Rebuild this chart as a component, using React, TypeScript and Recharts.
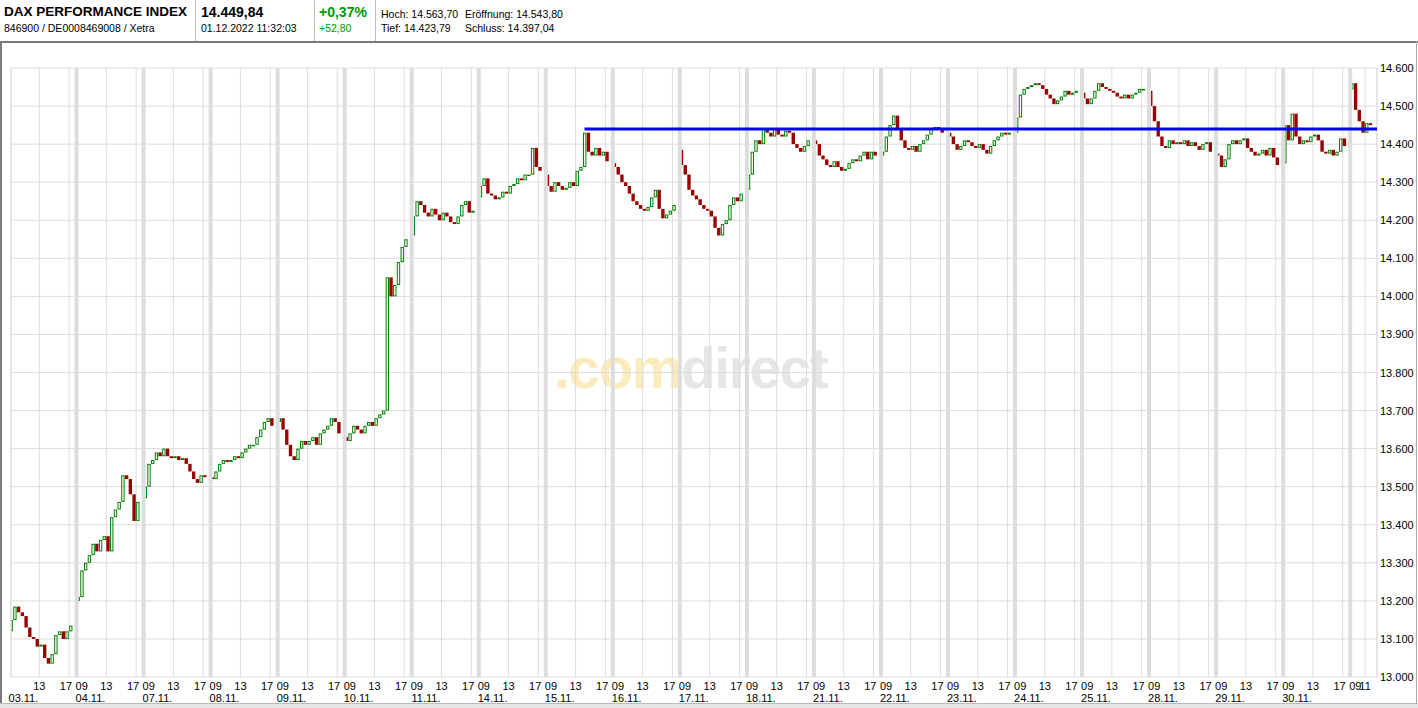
import { ComposedChart, Bar, XAxis, YAxis, CartesianGrid, ReferenceLine } from 'recharts'

// trading days shown on the axis (one slot of 9 hours each: 09:00-17:30 + gap)
const DAYS = [
  '03.11.', '04.11.', '07.11.', '08.11.', '09.11.', '10.11.', '11.11.',
  '14.11.', '15.11.', '16.11.', '17.11.', '18.11.', '21.11.', '22.11.',
  '23.11.', '24.11.', '25.11.', '28.11.', '29.11.', '30.11.', '01.12.'
]

// opening price of each day
const DAY_OPENS = [
  13120, 13200, 13470, 13525, 13670, 13630, 14160, 14260, 14320, 14350, 14385,
  14280, 14410, 14370, 14430, 14430, 14535, 14540, 14375, 14350, 14544
]

// 30 minute closes, 09:00 ... 17:00
const CLOSES = [
  [13150, 13185, 13170, 13160, 13130, 13105, 13100, 13080, 13085, 13050, 13035, 13060, 13110, 13120, 13100, 13120, 13135],
  [13210, 13280, 13300, 13320, 13350, 13330, 13360, 13370, 13330, 13420, 13440, 13460, 13530, 13520, 13480, 13410, 13460],
  [13500, 13560, 13570, 13590, 13580, 13600, 13580, 13575, 13580, 13570, 13575, 13560, 13540, 13520, 13510, 13530, 13525],
  [13520, 13540, 13560, 13570, 13565, 13570, 13580, 13575, 13590, 13600, 13610, 13610, 13630, 13650, 13670, 13680, 13660],
  [13680, 13650, 13610, 13580, 13570, 13600, 13620, 13610, 13620, 13630, 13610, 13640, 13650, 13660, 13680, 13670, 13640],
  [13620, 13640, 13660, 13650, 13640, 13660, 13670, 13660, 13680, 13690, 13700, 14050, 14000, 14030, 14090, 14130, 14150],
  [14210, 14250, 14240, 14220, 14210, 14230, 14215, 14200, 14220, 14210, 14195, 14190, 14210, 14240, 14250, 14220, 14225],
  [14290, 14310, 14270, 14265, 14255, 14260, 14275, 14270, 14290, 14295, 14310, 14305, 14320, 14320, 14390, 14340, 14330],
  [14290, 14275, 14300, 14290, 14280, 14285, 14300, 14290, 14330, 14340, 14430, 14380, 14370, 14390, 14370, 14380, 14355],
  [14340, 14320, 14300, 14290, 14270, 14250, 14240, 14230, 14225, 14235, 14260, 14280, 14230, 14205, 14215, 14225, 14240],
  [14345, 14320, 14280, 14265, 14255, 14240, 14230, 14225, 14210, 14180, 14160, 14190, 14200, 14240, 14260, 14250, 14270],
  [14320, 14380, 14410, 14400, 14440, 14430, 14420, 14440, 14425, 14420, 14435, 14430, 14400, 14390, 14380, 14395, 14410],
  [14400, 14370, 14360, 14345, 14340, 14355, 14340, 14330, 14335, 14350, 14360, 14355, 14370, 14380, 14360, 14380, 14370],
  [14380, 14420, 14450, 14475, 14440, 14410, 14390, 14385, 14395, 14380, 14400, 14410, 14425, 14440, 14445, 14440, 14430],
  [14420, 14400, 14385, 14395, 14410, 14405, 14395, 14390, 14400, 14385, 14375, 14395, 14410, 14420, 14430, 14425, 14430],
  [14470, 14530, 14545, 14550, 14555, 14560, 14555, 14545, 14530, 14520, 14505, 14515, 14525, 14540, 14530, 14535, 14540],
  [14520, 14505, 14520, 14540, 14560, 14550, 14545, 14540, 14535, 14525, 14520, 14530, 14520, 14530, 14535, 14545, 14545],
  [14500, 14460, 14420, 14395, 14390, 14410, 14400, 14405, 14400, 14410, 14395, 14405, 14395, 14385, 14400, 14405, 14380],
  [14370, 14340, 14360, 14400, 14410, 14400, 14410, 14415, 14390, 14380, 14370, 14375, 14385, 14370, 14390, 14365, 14345],
  [14450, 14410, 14480, 14420, 14400, 14410, 14405, 14420, 14425, 14410, 14380, 14375, 14385, 14370, 14380, 14415, 14395],
  [14560, 14490, 14460, 14430, 14455, 14450]
]

const Y_TICKS = [13000, 13100, 13200, 13300, 13400, 13500, 13600, 13700, 13800, 13900, 14000, 14100, 14200, 14300, 14400, 14500, 14600]
const X_DOMAIN = [0.2, 183.6]
const TREND_START = 77.2
const TREND_LEVEL = 14440

const candles = CLOSES.flatMap((row, d) =>
  row.map((c, k) => {
    const o = k === 0 ? DAY_OPENS[d] : row[k - 1]
    return { t: d * 9 + k * 0.5 + 0.25, o, c, range: [Math.min(o, c), Math.max(o, c)] }
  })
)

// 09 / 13 / 17 ticks per day, last day only up to 11
const xTicks: number[] = []
DAYS.forEach((_, d) => {
  if (d === DAYS.length - 1) {
    xTicks.push(d * 9, d * 9 + 2)
  } else {
    if (d > 0) xTicks.push(d * 9)
    xTicks.push(d * 9 + 4, d * 9 + 8)
  }
})
const dayStarts = DAYS.map((_, d) => d * 9).filter((v) => v > 0)

const fmt = (v: number) => {
  const s = String(v)
  return s.slice(0, s.length - 3) + '.' + s.slice(-3)
}

const FONT = '"Liberation Sans", Arial, sans-serif'

function Candle(props: any) {
  const { x, y, width, height, payload } = props
  if (x == null || y == null) return null
  const h = Math.max(height || 0, 1)
  if (payload.c >= payload.o) {
    return <rect x={x + 0.5} y={y + 0.5} width={width - 1} height={Math.max(h - 1, 0.5)} fill="none" stroke="#008000" strokeWidth={1} />
  }
  return <rect x={x} y={y} width={width} height={h} fill="#990000" />
}

function XTick({ x, y, payload }: any) {
  const v = payload.value
  const d = Math.floor(v / 9 + 1e-6)
  const h = Math.round(v - d * 9) + 9
  const lbl = h < 10 ? '0' + h : String(h)
  let anchor: 'start' | 'middle' | 'end' = 'middle'
  let dx = 0
  if (h === 9) { anchor = 'start'; dx = -1 }
  if (h === 17) { anchor = 'end'; dx = 3 }
  return (
    <g>
      <text x={x + dx} y={y + 13} textAnchor={anchor} fontSize={11} fontFamily={FONT} fill="#000">{lbl}</text>
      {h === 13 && (
        <text x={x - 1} y={y + 25} textAnchor="end" fontSize={11} fontFamily={FONT} fill="#000">{DAYS[d]}</text>
      )}
    </g>
  )
}

function YTick({ x, y, payload }: any) {
  return (
    <text x={x + 3} y={y + 4} textAnchor="start" fontSize={11} fontFamily={FONT} fill="#000">{fmt(payload.value)}</text>
  )
}

const txt = (left: number, top: number, size: number, s: string, extra: any = {}) => (
  <div style={{ position: 'absolute', left, top, fontSize: size, fontFamily: FONT, whiteSpace: 'nowrap', lineHeight: 1, ...extra }}>{s}</div>
)

export default function App() {
  return (
    <div style={{ position: 'relative', width: 1418, height: 708, background: '#fff', overflow: 'hidden' }}>
      <style>{'body{margin:0}'}</style>
      {/* header */}
      {txt(4, 5, 13.5, 'DAX PERFORMANCE INDEX', { fontWeight: 'bold' })}
      {txt(4, 23, 10.5, '846900 / DE0008469008 / Xetra')}
      {txt(201, 5, 14, '14.449,84', { fontWeight: 'bold' })}
      {txt(201, 23, 10.5, '01.12.2022 11:32:03')}
      {txt(319, 5, 14, '+0,37%', { fontWeight: 'bold', color: '#009900' })}
      {txt(319, 23, 10.5, '+52,80', { color: '#009900' })}
      {txt(381, 9, 10.5, 'Hoch: 14.563,70')}
      {txt(465, 9, 10.5, 'Eröffnung: 14.543,80')}
      {txt(381, 23, 10.5, 'Tief: 14.423,79')}
      {txt(465, 23, 10.5, 'Schluss: 14.397,04')}
      <div style={{ position: 'absolute', left: 195, top: 0, width: 1, height: 41, background: '#bbb' }} />
      <div style={{ position: 'absolute', left: 314, top: 0, width: 1, height: 41, background: '#bbb' }} />
      <div style={{ position: 'absolute', left: 375, top: 0, width: 1, height: 41, background: '#bbb' }} />
      <div style={{ position: 'absolute', left: 0, top: 41, width: 1418, height: 2, background: '#7a7a7a' }} />
      <div style={{ position: 'absolute', left: 0, top: 41, width: 2, height: 663, background: '#7a7a7a' }} />
      <div style={{ position: 'absolute', left: 1416, top: 41, width: 1, height: 663, background: '#aaa' }} />
      <div style={{ position: 'absolute', left: 0, top: 703, width: 1418, height: 5, background: '#e6e6e6', borderTop: '1px solid #bbb' }} />
      {/* watermark */}
      <div style={{ position: 'absolute', left: 554, top: 340, fontSize: 57, fontWeight: 'bold', fontFamily: FONT, letterSpacing: -1.5, lineHeight: 1 }}>
        <span style={{ color: '#fbecbd' }}>.com</span>
        <span style={{ color: '#e6e6e6' }}>direct</span>
      </div>
      <div style={{ position: 'absolute', left: 0, top: 0 }}>
        <ComposedChart width={1418} height={708} data={candles} margin={{ top: 68, right: 0, bottom: 0, left: 11 }}>
          <CartesianGrid stroke="#dddddd" strokeWidth={1} />
          {dayStarts.map((v) => (
            <ReferenceLine key={v} x={v} stroke="#dddddd" strokeWidth={4} />
          ))}
          <ReferenceLine x={X_DOMAIN[0]} stroke="#dddddd" />
          <ReferenceLine x={X_DOMAIN[1]} stroke="#dddddd" />
          <XAxis
            type="number"
            dataKey="t"
            domain={X_DOMAIN}
            ticks={xTicks}
            allowDataOverflow
            height={31}
            axisLine={false}
            tickLine={false}
            tickSize={0}
            tickMargin={0}
            interval={0}
            tick={<XTick />}
          />
          <YAxis
            orientation="right"
            domain={[13000, 14600]}
            ticks={Y_TICKS}
            width={41}
            axisLine={false}
            tickLine={false}
            tickSize={0}
            tickMargin={0}
            interval={0}
            tick={<YTick />}
          />
          <Bar dataKey="range" barSize={4} shape={<Candle />} isAnimationActive={false} />
          <ReferenceLine
            segment={[{ x: TREND_START, y: TREND_LEVEL }, { x: X_DOMAIN[1], y: TREND_LEVEL }]}
            stroke="#0000ff"
            strokeWidth={3}
          />
        </ComposedChart>
      </div>
    </div>
  )
}
